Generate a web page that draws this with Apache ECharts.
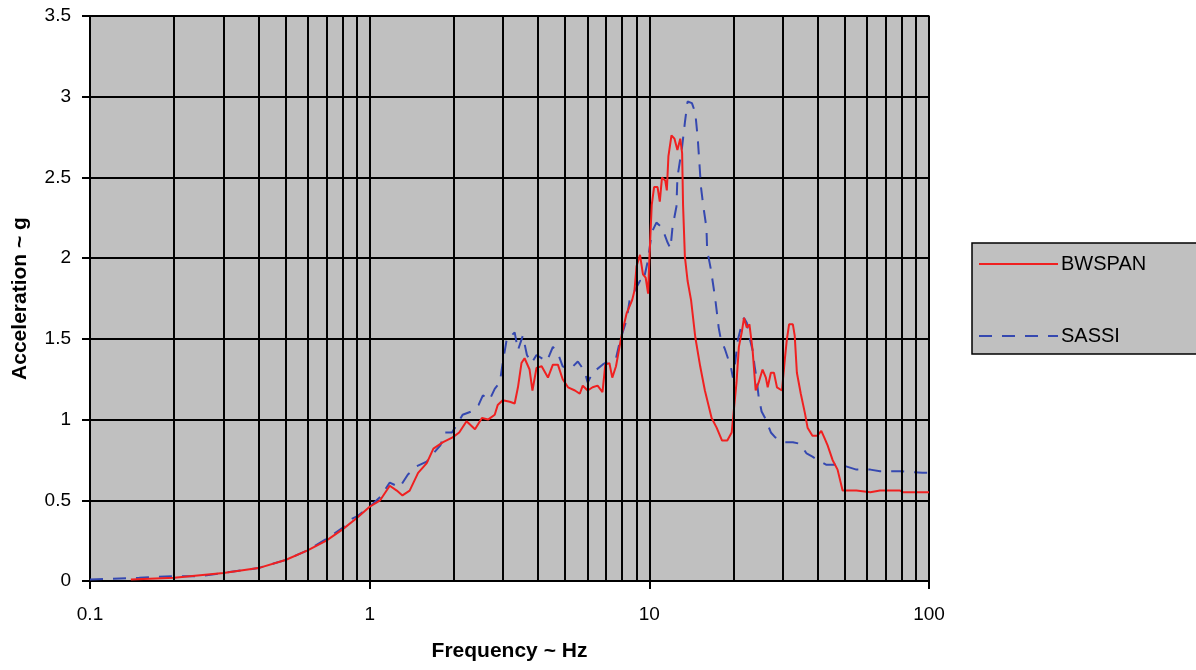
<!DOCTYPE html>
<html>
<head>
<meta charset="utf-8">
<script src="https://cdn.jsdelivr.net/npm/echarts@6/dist/echarts.min.js"></script>
<style>
  html, body { margin: 0; padding: 0; background: #fff; }
  #chart { width: 1196px; height: 670px; }
</style>
</head>
<body>
<div id="chart"></div>
<script>
// BWSPAN (red, solid)
const bwFreq = [0.14, 0.2, 0.3, 0.4, 0.5, 0.6, 0.7, 0.8, 0.9, 1.0, 1.09, 1.18, 1.25, 1.31, 1.39, 1.49, 1.6, 1.69, 1.83, 1.98,
  2.09, 2.22, 2.38, 2.52, 2.65, 2.8, 2.87, 2.99, 3.17, 3.3, 3.39, 3.49, 3.58, 3.73, 3.82, 3.95, 4.12, 4.34, 4.52, 4.71,
  4.9, 5.12, 5.42, 5.64, 5.78, 6.02, 6.27, 6.53, 6.8, 6.96, 7.2, 7.37, 7.6, 7.86, 8.0, 8.3, 8.68, 8.85, 9.0, 9.26,
  9.49, 9.7, 9.9, 10.0, 10.2, 10.4, 10.7, 10.9, 11.1, 11.4, 11.55, 11.7, 12.0, 12.3, 12.6, 12.9, 13.1, 13.2, 13.4, 13.7,
  14.1, 14.6, 15.2, 15.8, 16.7, 17.4, 18.2, 19.0, 19.7, 20.0, 20.5, 20.9, 21.4, 21.8, 22.3, 22.8, 23.4, 24.0, 24.6, 25.4,
  26.1, 26.5, 27.2, 27.9, 28.6, 29.8, 30.5, 31.0, 31.6, 32.6, 33.1, 33.7, 34.8, 36.0, 36.8, 38.3, 39.9, 41.2, 42.2, 43.4,
  45.2, 47.1, 49.1, 55, 61.7, 66.8, 78.8, 80.7, 100];
const bwAcc = [0.01, 0.02, 0.05, 0.08, 0.13, 0.19, 0.25, 0.32, 0.39, 0.46, 0.50, 0.59, 0.56, 0.53, 0.56, 0.67, 0.73, 0.82, 0.86, 0.89,
  0.92, 0.99, 0.94, 1.01, 1.00, 1.03, 1.09, 1.12, 1.11, 1.10, 1.20, 1.35, 1.38, 1.31, 1.18, 1.32, 1.33, 1.26, 1.34, 1.34,
  1.25, 1.20, 1.18, 1.16, 1.21, 1.18, 1.20, 1.21, 1.17, 1.34, 1.35, 1.26, 1.33, 1.47, 1.54, 1.66, 1.74, 1.80, 1.95, 2.02,
  1.90, 1.88, 1.78, 1.99, 2.33, 2.44, 2.44, 2.35, 2.50, 2.48, 2.42, 2.63, 2.76, 2.74, 2.67, 2.74, 2.65, 2.33, 2.01, 1.86,
  1.74, 1.51, 1.33, 1.18, 1.01, 0.95, 0.87, 0.87, 0.92, 0.92, 1.23, 1.45, 1.54, 1.63, 1.57, 1.59, 1.43, 1.18, 1.23, 1.31,
  1.26, 1.20, 1.29, 1.29, 1.20, 1.18, 1.37, 1.49, 1.59, 1.59, 1.52, 1.29, 1.16, 1.04, 0.95, 0.90, 0.90, 0.93, 0.89, 0.84,
  0.75, 0.69, 0.56, 0.56, 0.55, 0.56, 0.56, 0.55, 0.55];

// SASSI (blue, dashed)
const saFreq = [0.1, 0.15, 0.2, 0.25, 0.3, 0.4, 0.5, 0.6, 0.7, 0.8, 0.85, 0.9, 1.0, 1.09, 1.18, 1.28, 1.37, 1.47, 1.6, 1.69,
  1.79, 1.86, 1.97, 2.07, 2.15, 2.31, 2.45, 2.54, 2.68, 2.8, 2.92, 2.99, 3.1, 3.17, 3.3, 3.39, 3.53, 3.65, 3.79, 3.95,
  4.3, 4.52, 4.71, 4.9, 5.2, 5.55, 5.87, 6.02, 6.27, 6.8, 7.1, 7.6, 7.86, 8.3, 8.5, 9.0, 9.26, 9.5, 9.9, 10.2,
  10.6, 11.1, 11.6, 11.9, 12.1, 12.5, 12.6, 13.1, 13.4, 13.7, 14.2, 14.6, 14.9, 15.1, 15.3, 15.6, 16.0, 16.1, 16.6, 17.2,
  17.7, 18.0, 18.6, 19.1, 19.6, 19.9, 20.3, 20.7, 21.4, 21.8, 22.3, 22.8, 23.4, 23.8, 24.2, 24.6, 25.2, 26.1, 27.2, 28.2,
  30.5, 32.6, 34.6, 36.5, 38.3, 39.9, 43, 46.6, 50.5, 55, 61.7, 66.8, 78.8, 94.7, 100];
const saAcc = [0.01, 0.02, 0.03, 0.03, 0.05, 0.08, 0.13, 0.19, 0.26, 0.33, 0.38, 0.40, 0.46, 0.52, 0.61, 0.58, 0.66, 0.71, 0.74, 0.79,
  0.84, 0.92, 0.92, 0.98, 1.03, 1.05, 1.09, 1.15, 1.12, 1.19, 1.23, 1.35, 1.51, 1.51, 1.54, 1.43, 1.52, 1.40, 1.35, 1.40,
  1.36, 1.45, 1.41, 1.33, 1.31, 1.36, 1.30, 1.23, 1.29, 1.34, 1.36, 1.38, 1.49, 1.62, 1.74, 1.82, 1.86, 1.85, 1.99, 2.16,
  2.22, 2.19, 2.10, 2.06, 2.19, 2.32, 2.50, 2.69, 2.84, 2.97, 2.96, 2.90, 2.74, 2.59, 2.44, 2.32, 2.19, 2.05, 1.93, 1.75,
  1.57, 1.50, 1.44, 1.38, 1.32, 1.26, 1.36, 1.49, 1.59, 1.63, 1.60, 1.51, 1.43, 1.33, 1.25, 1.14, 1.05, 1.00, 0.92, 0.89,
  0.86, 0.86, 0.85, 0.79, 0.77, 0.75, 0.72, 0.72, 0.71, 0.69, 0.69, 0.68, 0.68, 0.67, 0.67];

const yTicks = ['0', '0.5', '1', '1.5', '2', '2.5', '3', '3.5'];
const decades = [0.1, 1, 10];

const FONT = 'Liberation Sans, Arial, sans-serif';

// minor vertical grid lines at 2..9 of each decade
const minorLines = [];
decades.forEach(d => {
  for (let k = 2; k <= 9; k++) minorLines.push({ xAxis: +(d * k).toPrecision(3) });
});

const chart = echarts.init(document.getElementById('chart'));

chart.setOption({
  animation: false,
  backgroundColor: '#ffffff',
  textStyle: { fontFamily: FONT, color: '#000' },
  grid: {
    left: 90, right: 267, top: 16, bottom: 89,
    show: true,
    backgroundColor: '#C0C0C0',
    borderColor: '#8a8a8a',
    borderWidth: 2
  },
  legend: {
    data: ['BWSPAN', 'SASSI'],
    orient: 'vertical',
    left: 972,
    top: 243,
    padding: [11, 90, 8, 6],
    itemWidth: 79,
    itemHeight: 14,
    itemGap: 52,
    backgroundColor: '#C0C0C0',
    borderColor: '#000',
    borderWidth: 1.5,
    borderRadius: 0,
    itemStyle: { opacity: 0 },
    textStyle: { fontFamily: FONT, fontSize: 20, color: '#000', padding: [0, 0, 0, -2] }
  },
  xAxis: {
    type: 'log',
    logBase: 10,
    min: 0.1,
    max: 100,
    name: 'Frequency ~ Hz',
    nameLocation: 'middle',
    nameGap: 60,
    nameTextStyle: { fontFamily: FONT, fontSize: 21, fontWeight: 'bold', color: '#000' },
    axisLine: { lineStyle: { color: '#000', width: 2 } },
    axisTick: { show: true, length: 8, lineStyle: { color: '#000', width: 2 } },
    axisLabel: {
      fontFamily: FONT, fontSize: 19, color: '#000', margin: 24,
      formatter: v => String(+v.toPrecision(3))
    },
    splitLine: { show: true, lineStyle: { color: '#000', width: 2 } }
  },
  yAxis: {
    type: 'value',
    min: 0,
    max: 3.5,
    interval: 0.5,
    name: 'Acceleration ~ g',
    nameLocation: 'middle',
    nameRotate: 90,
    nameGap: 59,
    nameTextStyle: { fontFamily: FONT, fontSize: 21, fontWeight: 'bold', color: '#000' },
    axisLine: { show: true, lineStyle: { color: '#000', width: 2 } },
    axisTick: { show: true, length: 8, lineStyle: { color: '#000', width: 2 } },
    axisLabel: {
      fontFamily: FONT, fontSize: 19, color: '#000', margin: 19,
      formatter: (v, i) => yTicks[i]
    },
    splitLine: { show: true, lineStyle: { color: '#000', width: 2 } }
  },
  series: [
    {
      // carries only the minor grid lines, drawn under the curves
      name: 'grid',
      type: 'line',
      data: [],
      z: 1,
      silent: true,
      markLine: {
        silent: true,
        symbol: 'none',
        label: { show: false },
        lineStyle: { color: '#000', width: 2, type: 'solid' },
        data: minorLines
      }
    },
    {
      name: 'BWSPAN',
      type: 'line',
      z: 3,
      symbol: 'none',
      data: bwFreq.map((f, i) => [f, bwAcc[i]]),
      lineStyle: { color: '#F02020', width: 2 },
      itemStyle: { color: '#F02020' }
    },
    {
      name: 'SASSI',
      type: 'line',
      z: 2,
      symbol: 'none',
      data: saFreq.map((f, i) => [f, saAcc[i]]),
      lineStyle: { color: '#3548B0', width: 2, type: [13, 10] },
      itemStyle: { color: '#3548B0' }
    }
  ]
});
</script>
</body>
</html>
